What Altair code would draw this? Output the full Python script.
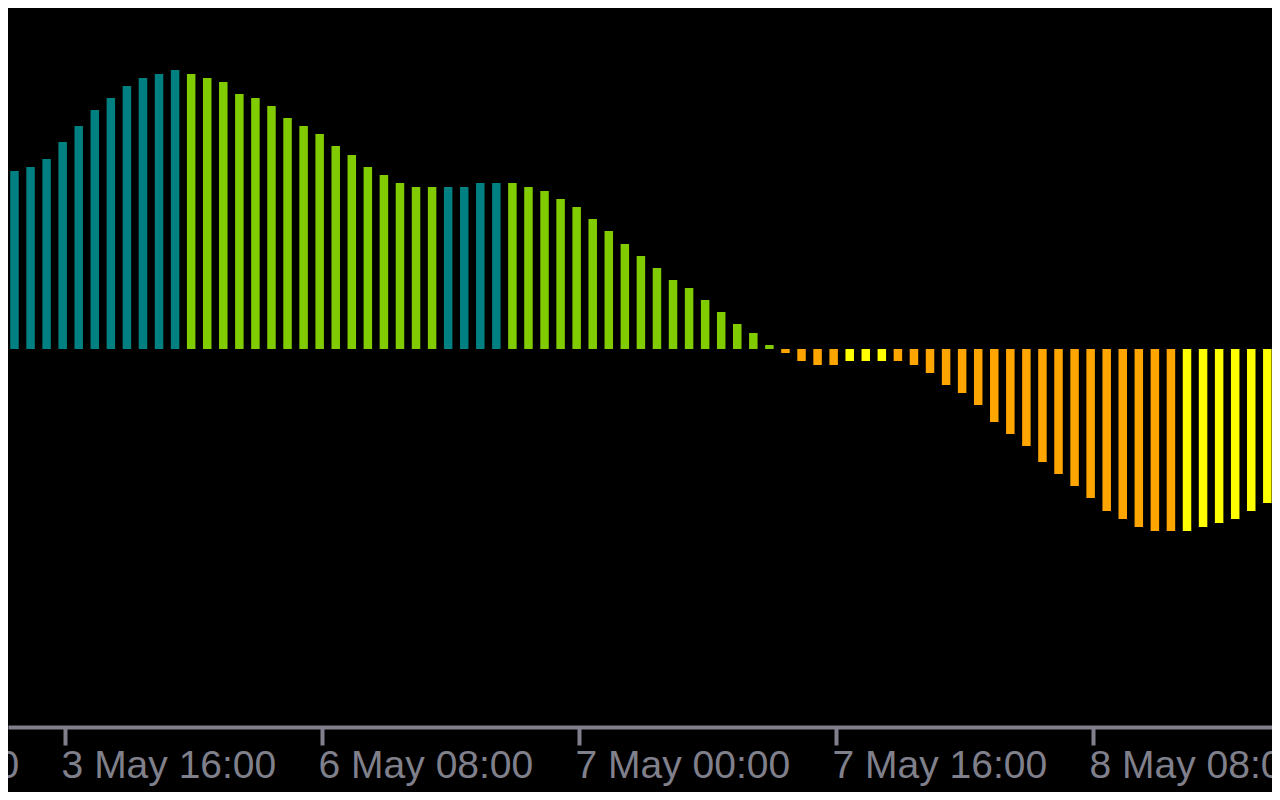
import altair as alt
import pandas as pd

# Histogram values, one per hourly bar
HIST = [
    1.78, 1.82, 1.90, 2.07, 2.23, 2.39, 2.51, 2.63, 2.71, 2.75,
    2.79, 2.75, 2.71, 2.67, 2.55, 2.51, 2.43, 2.31, 2.23, 2.15,
    2.03, 1.94, 1.82, 1.74, 1.66, 1.62, 1.62, 1.62, 1.62, 1.66,
    1.66, 1.66, 1.62, 1.58, 1.50, 1.42, 1.30, 1.18, 1.05, 0.93,
    0.81, 0.69, 0.61, 0.49, 0.37, 0.25, 0.16, 0.04, -0.04, -0.12,
    -0.16, -0.16, -0.12, -0.12, -0.12, -0.12, -0.16, -0.24, -0.36, -0.44,
    -0.56, -0.73, -0.85, -0.97, -1.13, -1.25, -1.37, -1.49, -1.62, -1.70,
    -1.78, -1.82, -1.82, -1.82, -1.78, -1.74, -1.70, -1.62, -1.54,
]

# Colour state of each bar: T = teal, G = green, O = orange, Y = yellow
PHASE = list(
    "TTTTTTTTTTT"          # 0-10
    "GGGGGGGGGGGGGGGG"     # 11-26
    "TTTT"                 # 27-30
    "GGGGGGGGGGGGGGGGG"    # 31-47
    "OOOO"                 # 48-51
    "YYY"                  # 52-54
    "OOOOOOOOOOOOOOOOOO"   # 55-72
    "YYYYYY"               # 73-78
)

PHASE_KEYS = ["T", "G", "O", "Y"]
PHASE_COLORS = ["#008080", "#80CC00", "#FFA500", "#FFFF00"]

# Time-axis ticks: bar index where each label sits, and its text
TICK_BAR = [-13, 3, 19, 35, 51, 67]
TICK_LABELS = ["3 May 00:00", "3 May 16:00", "6 May 08:00",
               "7 May 00:00", "7 May 16:00", "8 May 08:00"]

GRAY = "#80808C"
BG = "#000000"

W = 1264            # page is 1280 wide with an 8px margin each side
TOTAL_H = 784
H = 719             # plot area down to the time axis line
ZERO_Y = 341        # pixel row of the zero line inside the plot
SPACING = 16.19
X0 = -1.5 / SPACING
X_DOM = [X0, X0 + W / SPACING]
Y_DOM = [(ZERO_Y - H) / 100, ZERO_Y / 100]
TICK_SHIFT = 0.12

bars = pd.DataFrame({"bar": list(range(len(HIST))), "hist": HIST, "phase": PHASE})
ticks = pd.DataFrame({"bar": [b + TICK_SHIFT for b in TICK_BAR], "label": TICK_LABELS})

x_scale = alt.Scale(domain=X_DOM, nice=False, zero=False)
y_scale = alt.Scale(domain=Y_DOM, nice=False, zero=False)

tick_vals = [b + TICK_SHIFT for b in TICK_BAR if X_DOM[0] <= b + TICK_SHIFT <= X_DOM[1]]
x_axis = alt.Axis(values=tick_vals, title=None)

bar_layer = alt.Chart(bars).mark_bar(size=8.5).encode(
    x=alt.X("bar:Q", scale=x_scale, axis=x_axis),
    y=alt.Y("hist:Q", scale=y_scale, axis=None),
    color=alt.Color(
        "phase:N",
        scale=alt.Scale(domain=PHASE_KEYS, range=PHASE_COLORS),
        legend=None,
    ),
)

label_layer = alt.Chart(ticks).mark_text(
    align="left",
    baseline="alphabetic",
    dx=-3,
    font="Liberation Sans",
    fontSize=39,
    color=GRAY,
).encode(
    x=alt.X("bar:Q", scale=x_scale, axis=x_axis),
    y=alt.value(770),
    text="label:N",
)

chart = (
    alt.layer(bar_layer, label_layer)
    .properties(
        width=W,
        height=H,
        autosize=alt.AutoSizeParams(type="none"),
        padding={"left": 0, "top": 0, "right": 0, "bottom": TOTAL_H - H},
        background=BG,
    )
    .configure_axisX(
        labels=False,
        grid=False,
        domain=True,
        domainColor=GRAY,
        domainWidth=4,
        ticks=True,
        tickColor=GRAY,
        tickWidth=4,
        tickSize=18,
    )
    .configure_view(stroke=None)
)

chart.save("out.html", embed_options={"renderer": "svg", "actions": False})
